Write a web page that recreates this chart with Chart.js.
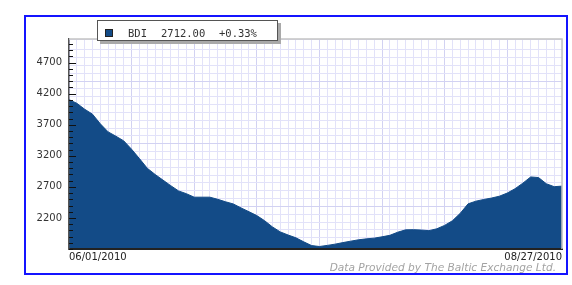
<!DOCTYPE html>
<html>
<head>
<meta charset="utf-8">
<title>BDI</title>
<script src="https://cdn.jsdelivr.net/npm/chart.js@4.4.1/dist/chart.umd.min.js"></script>
<style>
  html, body { margin: 0; padding: 0; background: #fff; }
</style>
</head>
<body>
<canvas id="bdiChart" width="572" height="285"></canvas>
<script>
// Baltic Dry Index - dias úteis de 06/01/2010 a 08/27/2010
const juneDays = [1, 2, 3, 4, 7, 8, 9, 10, 11, 14, 15, 16, 17, 18, 21, 22, 23, 24, 25, 28, 29, 30]
const julyDays = [1, 2, 5, 6, 7, 8, 9, 12, 13, 14, 15, 16, 19, 20, 21, 22, 23, 26, 27, 28, 29, 30]
const augDays = [2, 3, 4, 5, 6, 9, 10, 11, 12, 13, 16, 17, 18, 19, 20, 23, 24, 25, 26, 27]

const bdiValues = [
  4104, 4045, 3950, 3870, 3715, 3585, 3515, 3440, 3305, 3155,
  3000, 2900, 2810, 2720, 2635, 2590, 2534, 2534, 2534, 2500,
  2460, 2425, 2360, 2300, 2238, 2155, 2055, 1975, 1925, 1880,
  1815, 1755, 1740, 1758, 1778, 1803, 1826, 1848, 1863, 1875,
  1896, 1920, 1970, 2008, 2011, 2005, 1995, 2025, 2080, 2155,
  2275, 2427, 2470, 2497, 2520, 2550, 2600, 2670, 2760, 2860,
  2850, 2750, 2703, 2712,
]

const yTickValues = [2200, 2700, 3200, 3700, 4200, 4700]
const seriesName = "BDI"
const sourceText = "Data Provided by The Baltic Exchange Ltd."

const pad = (n) => String(n).padStart(2, "0")
const dates = [
  ...juneDays.map((d) => "06/" + pad(d) + "/2010"),
  ...julyDays.map((d) => "07/" + pad(d) + "/2010"),
  ...augDays.map((d) => "08/" + pad(d) + "/2010"),
]

const fillBlue = "#134b87"
const gridLight = "#e2e2f9"
const gridDark = "#d2d2f2"

// moldura azul, borda do gráfico, marcas do eixo Y, legenda e rodapé
const decorPlugin = {
  id: "decor",
  afterDraw(chart) {
    const c = chart.ctx
    const area = chart.chartArea
    const y = chart.scales.y
    c.save()

    // borda superior e direita da área do gráfico
    c.strokeStyle = "#c4c4c4"
    c.lineWidth = 1.5
    c.beginPath()
    c.moveTo(area.left, area.top)
    c.lineTo(area.right, area.top)
    c.lineTo(area.right, area.bottom)
    c.stroke()

    // marcas do eixo Y (a cada 100, maiores nos rótulos)
    c.strokeStyle = "#111"
    c.lineWidth = 1
    for (let v = Math.ceil(y.min / 100) * 100; v <= y.max; v += 100) {
      const py = Math.round(y.getPixelForValue(v)) + 0.5
      const len = yTickValues.includes(v) ? 7 : 4
      c.beginPath()
      c.moveTo(area.left, py)
      c.lineTo(area.left + len, py)
      c.stroke()
    }

    // moldura azul externa
    c.strokeStyle = "#1414ff"
    c.lineWidth = 2
    c.strokeRect(25, 16, 542, 258)

    // caixa da legenda
    c.fillStyle = "#a9a9a9"
    c.fillRect(100, 23, 181, 21)
    c.fillStyle = "#fff"
    c.fillRect(97, 20, 181, 21)
    c.strokeStyle = "#555"
    c.lineWidth = 1
    c.strokeRect(97.5, 20.5, 180, 20)

    c.fillStyle = fillBlue
    c.fillRect(105, 29, 8, 8)
    c.strokeStyle = "#222"
    c.strokeRect(105.5, 29.5, 7, 7)

    const last = bdiValues[bdiValues.length - 1]
    const prev = bdiValues[bdiValues.length - 2]
    const change = ((last - prev) / prev) * 100
    c.fillStyle = "#333"
    c.font = "10.5px 'DejaVu Sans Mono'"
    c.textBaseline = "middle"
    c.textAlign = "left"
    c.fillText(seriesName, 128, 34)
    c.fillText(last.toFixed(2), 161, 34)
    c.fillText((change >= 0 ? "+" : "") + change.toFixed(2) + "%", 219, 34)

    // rodapé
    c.fillStyle = "#a3a3a3"
    c.font = "italic 10.6px 'DejaVu Sans'"
    c.textAlign = "right"
    c.textBaseline = "alphabetic"
    c.fillText(sourceText, 556, 271)

    c.restore()
  },
}

const ctx = document.getElementById("bdiChart")
new Chart(ctx, {
  type: "line",
  data: {
    labels: dates,
    datasets: [
      {
        label: seriesName,
        data: bdiValues,
        borderColor: fillBlue,
        backgroundColor: fillBlue,
        borderWidth: 1,
        pointRadius: 0,
        tension: 0,
        fill: "start",
      },
    ],
  },
  options: {
    responsive: false,
    animation: false,
    devicePixelRatio: 1,
    layout: { padding: { top: 39, right: 10, bottom: 16, left: 0 } },
    plugins: {
      legend: { display: false },
      tooltip: { enabled: false },
    },
    scales: {
      x: {
        type: "category",
        offset: false,
        grid: {
          drawTicks: false,
          lineWidth: 1,
          color: (c) => (c.index % 8 === 0 ? gridDark : gridLight),
        },
        border: { display: true, color: "#222", width: 2, z: 1 },
        ticks: {
          autoSkip: false,
          minRotation: 0,
          maxRotation: 0,
          align: "inner",
          padding: 2,
          color: "#222",
          font: { family: "'DejaVu Sans'", size: 10 },
          callback: (value, index) =>
            index === 0 || index === dates.length - 1 ? dates[index] : "",
        },
        afterFit: (s) => {
          s.height = 20
        },
      },
      y: {
        position: "left",
        min: 1700,
        max: 5080,
        grid: { display: false, drawTicks: false },
        border: { display: true, color: "#555", width: 1.5, z: 1 },
        ticks: {
          padding: 7,
          color: "#333",
          font: { family: "'DejaVu Sans'", size: 10 },
          callback: (value) => String(value),
        },
        afterBuildTicks: (s) => {
          s.ticks = yTickValues.map((v) => ({ value: v }))
        },
        afterFit: (s) => {
          s.width = 69
        },
      },
      // eixo oculto só para a grade horizontal
      gy: {
        type: "linear",
        position: "right",
        min: -1.44,
        max: 25.38,
        ticks: { display: false, stepSize: 1 },
        grid: {
          drawTicks: false,
          lineWidth: 1,
          color: (c) => (c.tick && c.tick.value % 8 === 4 ? gridDark : gridLight),
        },
        border: { display: false },
        afterFit: (s) => {
          s.width = 0
        },
      },
    },
  },
  plugins: [decorPlugin],
})
</script>
</body>
</html>
